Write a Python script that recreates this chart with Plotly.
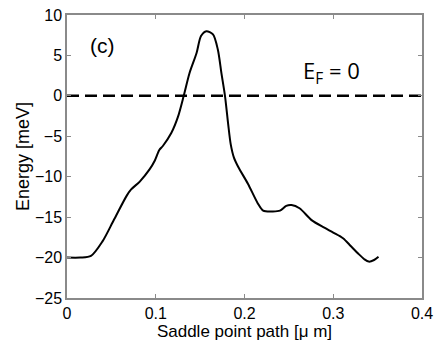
import plotly.graph_objects as go

path_um = [0.0, 0.015, 0.027, 0.040, 0.053, 0.067, 0.072, 0.082, 0.093, 0.099, 0.104, 0.108,
           0.1175, 0.125, 0.1315, 0.138, 0.146, 0.151, 0.157, 0.1645, 0.170, 0.174, 0.178,
           0.1815, 0.1845, 0.188, 0.193, 0.204, 0.215, 0.221, 0.232, 0.24,
           0.247, 0.253, 0.262, 0.276, 0.29, 0.3, 0.311, 0.32, 0.328, 0.335, 0.34, 0.346, 0.351]
energy_meV = [-20.0, -20.0, -19.8, -18.0, -15.3, -12.4, -11.6, -10.6, -9.1, -8.0, -6.7, -6.2,
              -4.6, -2.6, 0.0, 2.8, 5.3, 7.4, 8.0, 7.6, 5.7, 2.8, 0.0,
              -3.4, -6.0, -7.6, -8.8, -10.9, -13.3, -14.2, -14.3, -14.2,
              -13.6, -13.5, -13.9, -15.4, -16.3, -16.9, -17.6, -18.6, -19.5, -20.2, -20.5, -20.3, -19.9]
fermi_x = [0.0, 0.4]
fermi_y = [0.0, 0.0]

fig = go.Figure()
fig.add_trace(go.Scatter(x=fermi_x, y=fermi_y, mode="lines",
                         line=dict(color="black", width=2.5, dash="12px,6px"),
                         showlegend=False, hoverinfo="skip"))
fig.add_trace(go.Scatter(x=path_um, y=energy_meV, mode="lines",
                         line=dict(color="black", width=2, shape="spline", smoothing=0.8),
                         showlegend=False))

fig.add_annotation(x=0.04, y=6.2, xref="x", yref="y", text="(c)", showarrow=False,
                   font=dict(family="Liberation Sans, Arial", size=21, color="black"))
fig.add_annotation(x=0.298, y=3.0, xref="x", yref="y", text="E<sub>F</sub> = 0", showarrow=False,
                   font=dict(family="Open Sans, Lato, sans-serif", size=22, color="black"))

axis_common = dict(showline=True, linecolor="#8a8a8a", linewidth=1.5, mirror="ticks",
                   ticks="inside", ticklen=4, tickcolor="#8a8a8a", tickwidth=1,
                   showgrid=False, zeroline=False, automargin=False,
                   tickfont=dict(family="Liberation Sans, Arial", size=16, color="black"))

fig.update_xaxes(range=[0, 0.4], tickvals=[0, 0.1, 0.2, 0.3, 0.4],
                 ticktext=["0", "0.1", "0.2", "0.3", "0.4"],
                 title=dict(text="Saddle point path [μ m]", standoff=2,
                            font=dict(family="Liberation Sans, Arial", size=17, color="black")),
                 **axis_common)
fig.update_yaxes(range=[-25, 10], tickvals=[-25, -20, -15, -10, -5, 0, 5, 10],
                 title=dict(text="Energy [meV]", standoff=1,
                            font=dict(family="Liberation Sans, Arial", size=18, color="black")),
                 **axis_common)

fig.update_layout(width=438, height=349, margin=dict(l=67, r=16, t=15, b=51, autoexpand=False),
                  plot_bgcolor="white", paper_bgcolor="white")

fig.write_html("out.html", config={"displayModeBar": False},
               post_script="document.body.style.margin='0';")
